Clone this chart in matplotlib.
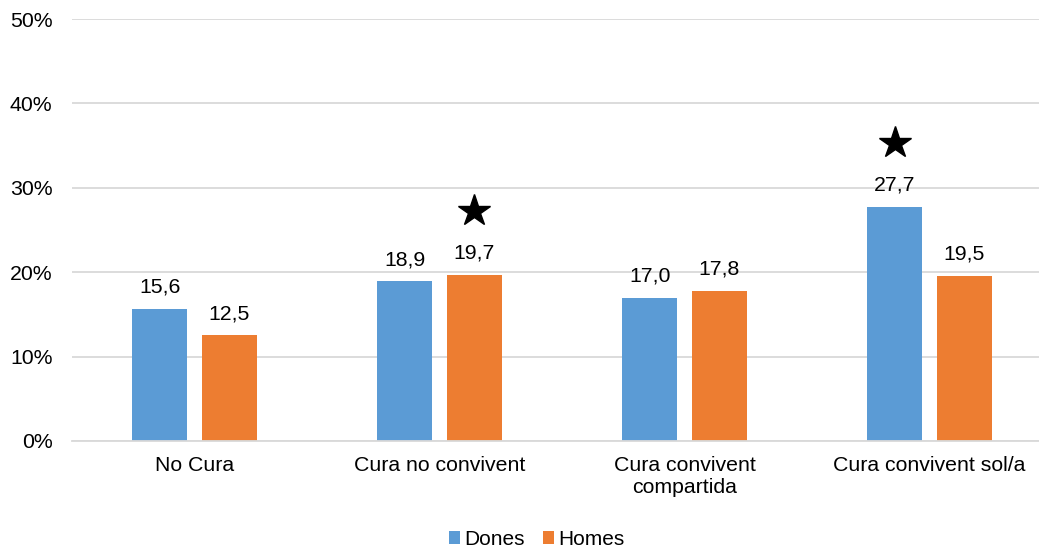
import matplotlib.pyplot as plt
import numpy as np

plt.rcParams['font.family'] = ['Liberation Sans', 'DejaVu Sans']

categories = ["No Cura", "Cura no convivent", "Cura convivent\ncompartida", "Cura convivent sol/a"]
dones = [15.6, 18.9, 17.0, 27.7]
homes = [12.5, 19.7, 17.8, 19.5]
# bars that carry a star: (series, category index)
stars = [("homes", 1), ("dones", 3)]

blue = "#5B9BD5"
orange = "#ED7D31"

fig = plt.figure(figsize=(10.39, 5.48), dpi=100)
ax = fig.add_axes([0.0693, 0.1953, 0.9432, 0.7700])

x = np.arange(len(categories))
w = 0.224
off = 0.1415
b1 = ax.bar(x - off, dones, w, color=blue, label="Dones", zorder=2)
b2 = ax.bar(x + off, homes, w, color=orange, label="Homes", zorder=2)

for xi, v in zip(x - off, dones):
    ax.text(xi, v + 2.6, f"{v:.1f}".replace(".", ","), ha="center", va="center", fontsize=15.3)
for xi, v in zip(x + off, homes):
    ax.text(xi, v + 2.6, f"{v:.1f}".replace(".", ","), ha="center", va="center", fontsize=15.3)

for series, i in stars:
    if series == "dones":
        xs, v = x[i] - off, dones[i]
    else:
        xs, v = x[i] + off, homes[i]
    ax.plot(xs, v + 7.6, marker="*", color="black", markersize=24, zorder=3)

ax.set_xlim(-0.5, 3.5)
ax.set_ylim(0, 50)
ax.set_yticks([0, 10, 20, 30, 40, 50])
ax.set_yticklabels(["0%", "10%", "20%", "30%", "40%", "50%"], fontsize=15.3)
ax.set_xticks(x)
ax.set_xticklabels(categories, fontsize=15.3)
ax.tick_params(axis="both", length=0)
ax.tick_params(axis="y", pad=14)
ax.tick_params(axis="x", pad=11)
ax.yaxis.grid(True, color="#D9D9D9", linewidth=1.3, zorder=0)
for s in ["top", "right", "left"]:
    ax.spines[s].set_visible(False)
ax.spines["bottom"].set_color("#D9D9D9")
ax.spines["bottom"].set_linewidth(1.3)

fig.legend(handles=[b1, b2], loc="center", bbox_to_anchor=(0.5165, 0.016), ncol=2, frameon=False,
           fontsize=15, handlelength=0.55, handleheight=0.55, handletextpad=0.2, columnspacing=0.85)

fig.savefig("out.png", dpi=100)
